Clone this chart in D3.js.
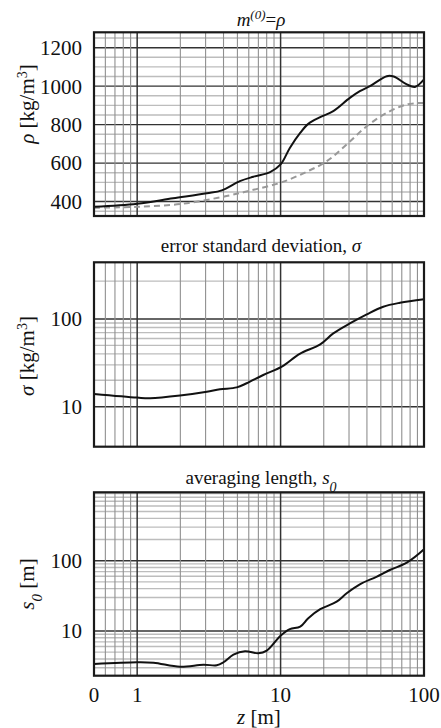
<!DOCTYPE html>
<html>
<head>
<meta charset="utf-8">
<script src="https://cdn.jsdelivr.net/npm/d3@7"></script>
<style>
body { margin: 0; background: #fff; }
</style>
</head>
<body>
<svg id="chart"></svg>
<script>
// depth samples and values
var zRho      = [0.5, 1, 1.78, 3.06, 3.89, 5.2, 6.46, 8.45, 10, 11.6, 13.7, 15.6, 18.9, 23.3, 30.4, 35.7, 42, 55, 61.5, 75.9, 86.5, 100];
var rhoVals   = [373, 389, 417, 443, 458, 506, 529, 553, 593, 679, 757, 804, 839, 870, 939, 974, 1000, 1052, 1050, 1009, 996, 1035];
var zRhoInit  = [0.5, 1, 2.1, 4.2, 6.46, 10, 15.2, 21, 28.9, 39.9, 55, 75.9, 100];
var rhoInit   = [368, 373, 389, 429, 461, 498, 555, 610, 697, 792, 861, 905, 913];
var zSigma    = [0.5, 1, 1.23, 1.99, 3.06, 3.78, 4.95, 5.8, 7.57, 10.2, 13.6, 18.9, 23.3, 30.4, 39.9, 52, 68, 100];
var sigmaVals = [13.96, 12.7, 12.5, 13.4, 14.8, 15.8, 16.6, 18.5, 23.0, 28.6, 40, 51.4, 68.5, 89, 113, 138, 153, 168];
var zS0       = [0.5, 1, 1.3, 1.99, 2.9, 3.59, 4.0, 4.69, 5.65, 6.99, 8.0, 10, 11.6, 13.7, 15.6, 18.9, 24.6, 28.9, 35.7, 46.6, 57.8, 75.9, 100];
var s0Vals    = [3.39, 3.59, 3.54, 3.1, 3.31, 3.25, 3.59, 4.6, 5.14, 4.81, 5.25, 8.57, 10.6, 11.5, 15.2, 20.4, 26.1, 34.4, 46.1, 59, 73.7, 93.6, 145];

var xTickVals   = [0.5, 1, 10, 100];
var xTickLabels = ["0", "1", "10", "100"];
var rhoTicks    = [400, 600, 800, 1000, 1200];
var rhoGrid     = d3.range(350, 1251, 50);
var sigmaTicks  = [10, 100];
var sigmaGrid   = [10, 20, 30, 40, 50, 60, 70, 80, 90, 100, 270];
var s0Ticks     = [10, 100];

var FONT = "'Liberation Serif', 'DejaVu Serif', serif";
var W = 441, H = 728;
var left = 94, right = 424;

var svg = d3.select("#chart").attr("width", W).attr("height", H)
	.attr("font-family", FONT);

var x = d3.scaleLog().domain([0.5, 100]).range([left, right]);

function isMajorX(v) { return Math.abs(v - 1) < 1e-9 || Math.abs(v - 10) < 1e-9; }

function drawPanel(y, top, bottom, gridVals, isMajorY, ticks, tickFmt) {
	var g = svg.append("g");
	// horizontal grid
	g.selectAll(".hg").data(gridVals.filter(d => y(d) > top + 0.5 && y(d) < bottom - 0.5))
		.enter().append("line")
		.attr("x1", left).attr("x2", right)
		.attr("y1", d => y(d)).attr("y2", d => y(d))
		.attr("stroke", d => isMajorY(d) ? "#333" : "#bdbdbd")
		.attr("stroke-width", d => isMajorY(d) ? 1.4 : 1.4);
	// vertical grid
	g.selectAll(".vg").data(x.ticks().filter(d => d > 0.5 && d < 100))
		.enter().append("line")
		.attr("y1", top).attr("y2", bottom)
		.attr("x1", d => x(d)).attr("x2", d => x(d))
		.attr("stroke", d => isMajorX(d) ? "#333" : "#8f8f8f")
		.attr("stroke-width", d => isMajorX(d) ? 1.5 : 1.1);
	// y tick labels
	g.selectAll(".yt").data(ticks)
		.enter().append("text")
		.attr("x", 82).attr("y", d => y(d))
		.attr("dy", "0.35em")
		.attr("text-anchor", "end")
		.attr("fill", "#111")
		.style("font-size", "21px")
		.text(tickFmt);
	return g;
}

function frame(g, top, bottom) {
	g.append("rect")
		.attr("x", left).attr("y", top)
		.attr("width", right - left).attr("height", bottom - top)
		.attr("fill", "none").attr("stroke", "#1a1a1a").attr("stroke-width", 2.2);
}

function curve(g, xs, ys, y, color, width, dash) {
	var pts = xs.map((d, i) => [d, ys[i]]);
	g.append("path")
		.datum(pts)
		.attr("fill", "none")
		.attr("stroke", color)
		.attr("stroke-width", width)
		.attr("stroke-dasharray", dash)
		.attr("d", d3.line().x(d => x(d[0])).y(d => y(d[1])).curve(d3.curveCatmullRom));
}

function addParts(t, parts, supSize, subSize) {
	parts.forEach(p => {
		var s = t.append("tspan").text(p.t);
		if (p.i) s.style("font-style", "italic");
		if (p.sup) s.attr("baseline-shift", "super").style("font-size", supSize);
		if (p.sub) s.attr("baseline-shift", "sub").style("font-size", subSize);
	});
}

function yLabel(parts, cx, cy) {
	var t = svg.append("text")
		.attr("transform", "translate(" + cx + "," + cy + ") rotate(-90)")
		.attr("text-anchor", "middle")
		.attr("dy", "0.35em")
		.attr("fill", "#111")
		.style("font-size", "21px");
	addParts(t, parts, "14px", "15px");
}

function title(parts, cy) {
	var t = svg.append("text")
		.attr("x", (left + right) / 2 + 2).attr("y", cy)
		.attr("text-anchor", "middle")
		.attr("fill", "#111")
		.style("font-size", "19px");
	addParts(t, parts, "13px", "14px");
}

// panel 1: density
var t1 = 32.3, b1 = 216;
var y1 = d3.scaleLinear().domain([325, 1280]).range([b1, t1]);
var g1 = drawPanel(y1, t1, b1, rhoGrid, d => d % 200 === 0, rhoTicks, d => d);
curve(g1, zRhoInit, rhoInit, y1, "#999", 2, "6,4");
curve(g1, zRho, rhoVals, y1, "#111", 2, null);
frame(g1, t1, b1);

// panel 2: error standard deviation
var t2 = 262.3, b2 = 446.7;
var y2 = d3.scaleLog().domain([3.5, 443]).range([b2, t2]);
var g2 = drawPanel(y2, t2, b2, sigmaGrid, d => d === 10 || d === 100, sigmaTicks, d => d);
curve(g2, zSigma, sigmaVals, y2, "#111", 2, null);
frame(g2, t2, b2);

// panel 3: averaging length
var t3 = 492.3, b3 = 675.7;
var y3 = d3.scaleLog().domain([2.31, 940]).range([b3, t3]);
var g3 = drawPanel(y3, t3, b3, y3.ticks(), d => d === 10 || d === 100, s0Ticks, d => d);
curve(g3, zS0, s0Vals, y3, "#111", 2, null);
frame(g3, t3, b3);

// x axis labels
svg.selectAll(".xt").data(xTickVals)
	.enter().append("text")
	.attr("x", d => x(d)).attr("y", 695)
	.attr("dy", "0.35em")
	.attr("text-anchor", "middle")
	.attr("fill", "#111")
	.style("font-size", "21px")
	.text((d, i) => xTickLabels[i]);

var xl = svg.append("text")
	.attr("x", (left + right) / 2).attr("y", 717)
	.attr("dy", "0.35em")
	.attr("text-anchor", "middle")
	.attr("fill", "#111")
	.style("font-size", "21px");
addParts(xl, [{t: "z", i: 1}, {t: " [m]"}]);

// titles
title([{t: "m", i: 1}, {t: "(0)", i: 1, sup: 1}, {t: "="}, {t: "ρ", i: 1}], 26);
title([{t: "error standard deviation, "}, {t: "σ", i: 1}], 252);
title([{t: "averaging length, "}, {t: "s", i: 1}, {t: "0", i: 1, sub: 1}], 484);

// y axis labels
yLabel([{t: "ρ", i: 1}, {t: " [kg/m"}, {t: "3", sup: 1}, {t: "]"}], 27, 104);
yLabel([{t: "σ", i: 1}, {t: " [kg/m"}, {t: "3", sup: 1}, {t: "]"}], 27, 356);
yLabel([{t: "s", i: 1}, {t: "0", i: 1, sub: 1}, {t: " [m]"}], 27, 584);
</script>
</body>
</html>
